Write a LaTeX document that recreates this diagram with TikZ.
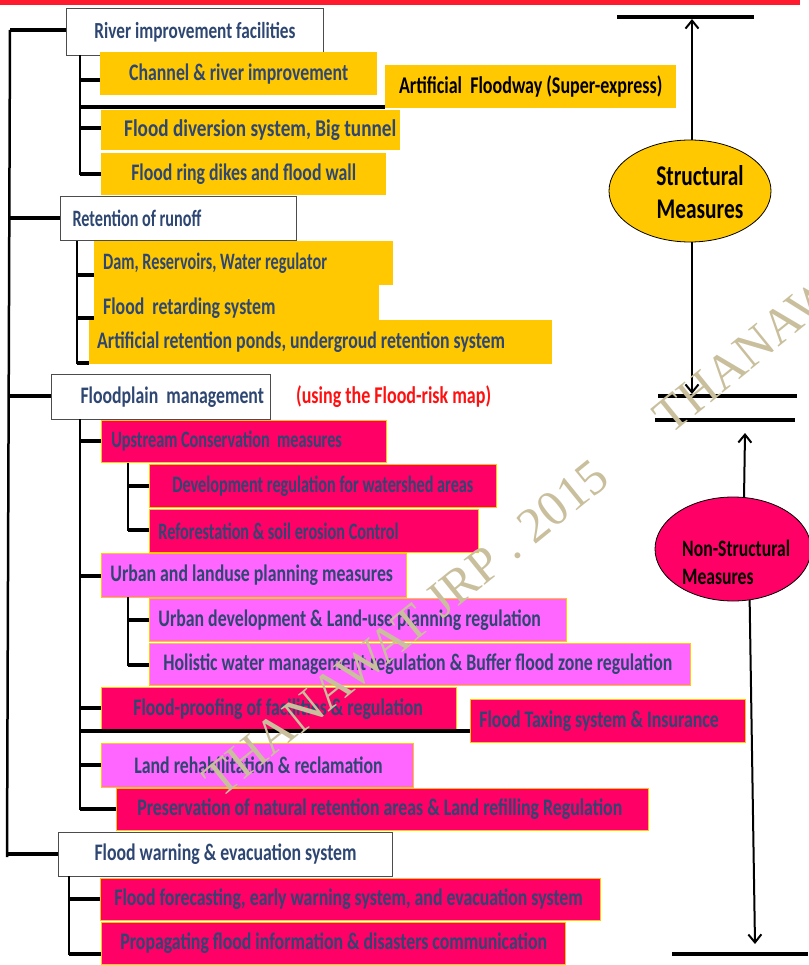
\documentclass[tikz,border=0pt]{standalone}
\usepackage{fontspec}
\newfontfamily\cf{Carlito}[FakeStretch=0.75]
\newfontfamily\cft{Carlito}[FakeStretch=0.69]
\newfontfamily\cfw{Carlito}[FakeStretch=0.80]
\newfontfamily\wmfont{Liberation Serif}
\usetikzlibrary{arrows.meta,shapes.geometric,calc}
\definecolor{ylw}{HTML}{FFC800}
\definecolor{rdb}{HTML}{FF0066}
\definecolor{mgb}{HTML}{FF66FF}
\definecolor{txb}{HTML}{2E4672}
\definecolor{wm}{HTML}{C9BF9D}
\definecolor{topred}{HTML}{FF1A2E}
\definecolor{riskred}{HTML}{FF1010}
\newcommand\mybox[7]{\node[#1, minimum width=#4pt, text width=#4pt, minimum height=#5pt] (#2) at (#3) {\hspace*{#6pt}#7};}
\begin{document}
\begin{tikzpicture}[x=1pt,y=-1pt,
 base/.style={rectangle, anchor=north west, inner sep=0pt, align=flush left, font=\cf\bfseries\fontsize{23.7}{26}\selectfont, text=txb},
 tight/.style={font=\cft\bfseries\fontsize{23.5}{26}\selectfont},
 wide/.style={font=\cfw\bfseries\fontsize{24}{26}\selectfont},
 hdr/.style={base, fill=white, draw=black!70, line width=1pt},
 ybx/.style={base, fill=ylw},
 rbx/.style={base, fill=rdb, draw=ylw, line width=0.8pt},
 mbx/.style={base, fill=mgb, draw=ylw, line width=0.8pt},
 ctr/.style={align=flush center},
 spine/.style={line width=2.5pt},
 br/.style={line width=3.5pt},
 arr/.style={line width=2pt, -{Straight Barb[length=8pt,width=13pt]}},
 bar/.style={line width=3.5pt},
 ell/.style={ellipse, draw=black, line width=0.8pt, inner sep=0pt},
 elltext/.style={inner sep=0pt, text=black, font=\cf\bfseries\fontsize{28.5}{33}\selectfont}
]
\useasboundingbox (0,0) rectangle (808,965);
\fill[topred] (0,0) rectangle (800,5);

% ---------- boxes ----------
\mybox{hdr,ctr,font=\cf\bfseries\fontsize{23}{26}\selectfont}{river}{66,8}{257}{47}{0}{River improvement facilities}
\mybox{ybx,ctr}{channel}{100,52}{277}{43}{0}{Channel \& river improvement}
\mybox{ybx,ctr,text=black,font=\cf\bfseries\fontsize{24}{26}\selectfont}{floodway}{385,65}{291}{43}{0}{Artificial\ \ Floodway (Super-express)}
\mybox{ybx,wide}{diversion}{101,110}{299}{40}{23}{Flood diversion system, Big tunnel}
\mybox{ybx,ctr}{ring}{101,153}{285}{42}{0}{Flood ring dikes and flood wall}

\mybox{hdr,tight}{retention}{60,196}{236}{44}{12}{Retention of runoff}
\mybox{ybx,tight}{dam}{94,241}{299}{44}{9}{Dam, Reservoirs, Water regulator}
\mybox{ybx}{retarding}{94,285}{285}{46}{9}{Flood\ \ retarding system}
\mybox{ybx}{ponds}{89,320}{463}{44}{8}{Artificial retention ponds, undergroud retention system}

\mybox{hdr}{floodplain}{51,374}{219}{45}{29}{Floodplain\ \ management}
\node[anchor=west, inner sep=0pt, font=\cf\bfseries\fontsize{24}{26}\selectfont, text=riskred] (riskmap) at (296,397) {(using the Flood-risk map)};
\mybox{rbx,tight}{upstream}{101,420}{285}{42}{10}{Upstream Conservation\ \ measures}
\mybox{rbx,ctr,tight}{watershed}{149,464}{347}{43}{0}{Development regulation for watershed areas}
\mybox{rbx,tight}{reforest}{149,509}{329}{43}{9}{Reforestation \& soil erosion Control}
\mybox{mbx}{urban}{101,553}{305}{44}{9}{Urban and landuse planning measures}
\mybox{mbx}{urbandev}{149,598}{417}{43}{9}{Urban development \& Land-use planning regulation}
\mybox{mbx}{holistic}{149,643}{541}{42}{14}{Holistic water management regulation \& Buffer flood zone regulation}
\mybox{rbx}{proofing}{101,687}{355}{43}{32}{Flood-proofing of facilities \& regulation}
\mybox{rbx}{taxing}{470,699}{275}{43}{9}{Flood Taxing system \& Insurance}
\mybox{mbx}{rehab}{101,743}{312}{44}{33}{Land rehabilitation \& reclamation}
\mybox{rbx}{preserve}{116,788}{532}{42}{21}{Preservation of natural retention areas \& Land refilling Regulation}

\mybox{hdr}{warning}{58,832}{334}{44}{36}{Flood warning \& evacuation system}
\mybox{rbx}{forecast}{100,878}{500}{42}{14}{Flood forecasting, early warning system, and evacuation system}
\mybox{rbx}{propagate}{101,922}{464}{42}{19}{Propagating flood information \& disasters communication}

% ---------- tree connectors ----------
\coordinate (mT) at (10,30);
\coordinate (mB) at (7,857);
\draw[spine] (mT) -- (mB);
\draw[br] (mT) -- (river.west |- 0,30);
\draw[br] (9,218) -- (retention.west |- 0,218);
\draw[br] (8.5,396) -- (floodplain.west |- 0,396);
\draw[br] (7,854) -- (warning.west |- 0,854);

\draw[spine] (80,55) -- (80,175);
\draw[br] (80,80) -- (channel.west |- 0,80);
\draw[br] (80,107) -- (floodway.west |- 0,107);
\draw[br] (80,128) -- (diversion.west |- 0,128);
\draw[br] (80,174) -- (ring.west |- 0,174);

\draw[spine] (77,241) -- (77,364);
\draw[br] (77,275) -- (dam.west |- 0,275);
\draw[br] (77,318) -- (retarding.west |- 0,318);
\draw[br] (77,363) -- (ponds.west |- 0,363);

\draw[spine] (80,419) -- (80,810);
\draw[br] (80,441) -- (upstream.west |- 0,441);
\draw[br] (80,576) -- (urban.west |- 0,576);
\draw[br] (80,708) -- (proofing.west |- 0,708);
\draw[br] (80,731) -- (taxing.west |- 0,731);
\draw[br] (80,765) -- (rehab.west |- 0,765);
\draw[br] (80,809) -- (preserve.west |- 0,809);

\draw[spine] (128,463) -- (128,531);
\draw[br] (128,486) -- (watershed.west |- 0,486);
\draw[br] (128,530) -- (reforest.west |- 0,530);

\draw[spine] (128,597) -- (128,666);
\draw[br] (128,620) -- (urbandev.west |- 0,620);
\draw[br] (128,665) -- (holistic.west |- 0,665);

\draw[spine] (69,876) -- (69,955);
\draw[br] (69,899) -- (forecast.west |- 0,899);
\draw[br] (69,954) -- (propagate.west |- 0,954);

% ---------- right side ----------
\node[ell, fill=ylw, minimum width=162pt, minimum height=102pt] (S) at (690,191) {};
\node[elltext, align=center] (Stext) at (700,192) {Structural\\Measures};
\node[ell, fill=rdb, minimum width=156pt, minimum height=104pt] (N) at (733,549) {};
\node[elltext, align=left, anchor=west, font=\cf\bfseries\fontsize{23.5}{28}\selectfont] (Ntext) at (682,562) {Non-Structural\\Measures};

\coordinate (b1L) at (617,17); \coordinate (b1R) at (754,17);
\coordinate (b2L) at (658,396); \coordinate (b2R) at (797,396);
\coordinate (b3L) at (655,420); \coordinate (b3R) at (795,420);
\coordinate (b4L) at (672,954); \coordinate (b4R) at (808,954);
\draw[bar] (b1L) -- (b1R);
\draw[bar] (b2L) -- (b2R);
\draw[bar] (b3L) -- (b3R);
\draw[bar] (b4L) -- (b4R);

\coordinate (t1) at (692,19);
\coordinate (t2) at (692,394);
\coordinate (t3) at (745,433);
\coordinate (t4) at (755,944);
\draw[arr] (S.north -| t1) -- (t1);
\draw[arr] (S.south -| t2) -- (t2);
\draw[arr] (N.78) -- (t3);
\draw[arr] (N.-72) -- (t4);

% ---------- watermark ----------
\begin{scope}
\clip (0,0) rectangle (808,965);
\node[rotate=39, anchor=base west, inner sep=0pt, text=wm, font=\wmfont\fontsize{50}{50}\selectfont] (wmk) at (220,800) {THANAWAT\ JRP\ .\ 2015\ \ \ \ \ \ THANAWAT};
\end{scope}
\end{tikzpicture}
\end{document}
